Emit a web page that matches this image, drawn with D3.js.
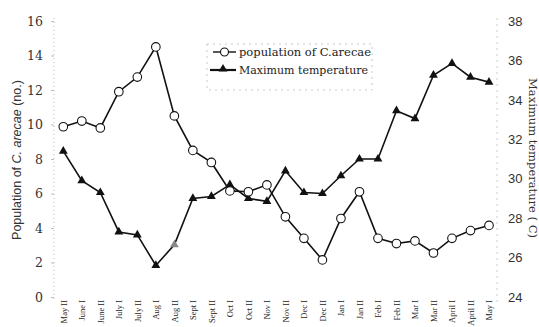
<!DOCTYPE html>
<html>
<head>
<meta charset="utf-8">
<script src="https://cdn.jsdelivr.net/npm/d3@7"></script>
<style>
  html, body { margin: 0; padding: 0; background: #fff; }
  svg { display: block; }
</style>
</head>
<body>
<svg id="chart" width="539" height="327"></svg>
<script>
const categories = ["May II","June I","June II","July I","July II","Aug I","Aug II","Sept I","Sept II","Oct I","Oct II","Nov I","Nov II","Dec I","Dec II","Jan I","Jan II","Feb I","Feb II","Mar I","Mar II","April I","April II","May I"];
const population = [9.87,10.2,9.8,11.9,12.75,14.5,10.5,8.5,7.8,6.15,6.1,6.5,4.65,3.4,2.15,4.55,6.1,3.4,3.1,3.25,2.55,3.4,3.85,4.15];
const temperature = [31.4,29.9,29.3,27.3,27.15,25.6,26.65,29.0,29.1,29.7,29.0,28.85,30.4,29.3,29.25,30.15,31.0,31.0,33.45,33.05,35.25,35.85,35.15,34.9];
const leftTicks = [0,2,4,6,8,10,12,14,16];
const rightTicks = [24,26,28,30,32,34,36,38];

const svg = d3.select("#chart");
const x = d3.scalePoint().domain(categories).range([63.3, 489]);
const yL = d3.scaleLinear().domain([0,16]).range([297,21]);
const yR = d3.scaleLinear().domain([24,38]).range([297,21]);

// faint axis lines
svg.append("line").attr("x1",54).attr("x2",54).attr("y1",18).attr("y2",302)
  .attr("stroke","#bbb").attr("stroke-width",1).attr("stroke-dasharray","1,3");
svg.append("line").attr("x1",497).attr("x2",497).attr("y1",18).attr("y2",302)
  .attr("stroke","#ccc").attr("stroke-width",1).attr("stroke-dasharray","2,4");

// left axis
const leftAxis = d3.axisLeft(yL).tickValues(leftTicks).tickSize(3).tickPadding(8);
const gL = svg.append("g").attr("transform","translate(54,0)").call(leftAxis);
gL.select(".domain").remove();
gL.selectAll(".tick line").attr("stroke","#bbb");
gL.selectAll("text").attr("font-family","'DejaVu Serif', serif").attr("font-size",12.5).attr("fill","#333");

// right axis
const rightAxis = d3.axisRight(yR).tickValues(rightTicks).tickSize(0).tickPadding(11);
const gR = svg.append("g").attr("transform","translate(497,0)").call(rightAxis);
gR.select(".domain").remove();
gR.selectAll("text").attr("font-family","'Liberation Sans', Arial, sans-serif").attr("font-size",13).attr("fill","#333");

// x axis labels
const xAxis = d3.axisBottom(x).tickSize(0).tickPadding(0);
const gX = svg.append("g").attr("transform","translate(0,299)").call(xAxis);
gX.select(".domain").remove();
gX.selectAll("text")
  .attr("font-family","'Liberation Serif', 'Times New Roman', serif").attr("font-size",8.5).attr("fill","#222")
  .attr("transform","rotate(-90)").attr("text-anchor","end").attr("dy","0.35em").attr("x",-1).attr("y",0);

// axis titles
const lt = svg.append("text").attr("transform","translate(21,160) rotate(-90)")
  .attr("text-anchor","middle").attr("font-family","'Liberation Sans', Arial, sans-serif")
  .attr("font-size",12.5).attr("fill","#333");
lt.append("tspan").text("Population of ");
lt.append("tspan").attr("font-style","italic").text("C. arecae");
lt.append("tspan").text(" (no.)");

svg.append("text").attr("transform","translate(529,158) rotate(90)")
  .attr("text-anchor","middle").attr("font-family","'DejaVu Serif', serif")
  .attr("font-size",11.5).attr("fill","#333").text("Maximum  temperature  ( C)");

// population line
const linePop = d3.line().x((d,i)=>x(categories[i])).y(d=>yL(d));
svg.append("path").datum(population).attr("d",linePop).attr("fill","none")
  .attr("stroke","#111").attr("stroke-width",1.6);

// temperature line
const lineTemp = d3.line().x((d,i)=>x(categories[i])).y(d=>yR(d));
svg.append("path").datum(temperature).attr("d",lineTemp).attr("fill","none")
  .attr("stroke","#111").attr("stroke-width",1.6);

// triangles
const tri = d3.symbol().type(d3.symbolTriangle).size(34);
svg.append("g").selectAll("path").data(temperature).join("path")
  .attr("d",tri)
  .attr("transform",(d,i)=>`translate(${x(categories[i])},${yR(d)})`)
  .attr("fill",(d,i)=>categories[i]==="Aug II" ? "#888" : "#111");

// circles
svg.append("g").selectAll("circle").data(population).join("circle")
  .attr("cx",(d,i)=>x(categories[i])).attr("cy",d=>yL(d)).attr("r",4.3)
  .attr("fill","#fff").attr("stroke","#111").attr("stroke-width",1.1);

// legend
const lg = svg.append("g");
lg.append("rect").attr("x",207).attr("y",44).attr("width",165).attr("height",46)
  .attr("fill","#fff").attr("stroke","#bbb").attr("stroke-width",0.8).attr("stroke-dasharray","2,4");
lg.append("line").attr("x1",213).attr("x2",236).attr("y1",52).attr("y2",52).attr("stroke","#111").attr("stroke-width",1.4);
lg.append("circle").attr("cx",224.5).attr("cy",52).attr("r",4).attr("fill","#fff").attr("stroke","#111").attr("stroke-width",1.1);
lg.append("text").attr("x",239).attr("y",56).attr("font-family","'DejaVu Serif', serif").attr("font-size",11.5).attr("fill","#222")
  .text("population  of C.arecae");
lg.append("line").attr("x1",210).attr("x2",236).attr("y1",70).attr("y2",70).attr("stroke","#111").attr("stroke-width",2.2);
lg.append("path").attr("d",tri).attr("transform","translate(223,69)").attr("fill","#111");
lg.append("text").attr("x",239).attr("y",74).attr("font-family","'DejaVu Serif', serif").attr("font-size",11).attr("fill","#222")
  .text("Maximum temperature");
</script>
</body>
</html>
